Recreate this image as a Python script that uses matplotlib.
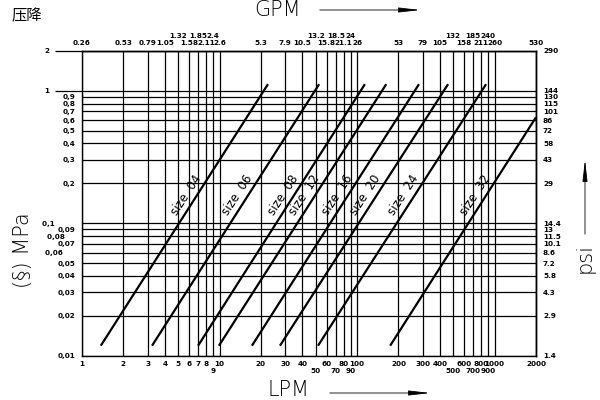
import math
import matplotlib.pyplot as plt
from matplotlib.ticker import NullFormatter

# Datos (caida de presion vs caudal)
tamanos = ['04', '06', '08', '12', '16', '20', '24', '32']
caudal_min = [1.37, 3.23, 6.98, 9.9, 17.2, 27.5, 52, 174]      # LPM
caudal_max = [22.5, 53, 114, 163, 282, 459, 867, 2000]          # LPM
presion_min = [0.0119, 0.0119, 0.0119, 0.0119, 0.0119, 0.0119, 0.0119, 0.0119]  # MPa
presion_max = [1.12, 1.12, 1.12, 1.12, 1.12, 1.12, 1.12, 0.63]                  # MPa

lpm_ticks = [1, 2, 3, 4, 5, 6, 7, 8, 9, 10, 20, 30, 40, 50, 60, 70, 80, 90, 100,
             200, 300, 400, 500, 600, 700, 800, 900, 1000, 2000]
gpm_labels = ['0.26', '0.53', '0.79', '1.05', '1.32', '1.58', '1.85', '2.11', '2.4', '2.6',
              '5.3', '7.9', '10.5', '13.2', '15.8', '18.5', '21.1', '24', '26',
              '53', '79', '105', '132', '158', '185', '211', '240', '260', '530']
lpm_abajo = [9, 50, 70, 90, 500, 700, 900]          # segunda fila abajo
gpm_arriba = [5, 7, 9, 50, 70, 90, 500, 700, 900]   # fila superior arriba

mpa_ticks = [0.01, 0.02, 0.03, 0.04, 0.05, 0.06, 0.07, 0.08, 0.09, 0.1,
             0.2, 0.3, 0.4, 0.5, 0.6, 0.7, 0.8, 0.9, 1, 2]
mpa_labels = ['0,01', '0,02', '0,03', '0,04', '0,05', '0,06', '0,07', '0,08', '0,09', '0,1',
              '0,2', '0,3', '0,4', '0,5', '0,6', '0,7', '0,8', '0,9', '1', '2']
psi_labels = ['1.4', '2.9', '4.3', '5.8', '7.2', '8.6', '10.1', '11.5', '13', '14.4',
              '29', '43', '58', '72', '86', '101', '115', '130', '144', '290']

# etiquetas desplazadas a la izquierda (las que tienen raya larga)
espacios = {0.06: 5, 0.08: 4, 0.1: 8, 1: 10, 2: 10}

presion_etiqueta = 0.163

fig = plt.figure(figsize=(6, 4), dpi=100)
ax = fig.add_axes([82 / 600, 1 - 355.7 / 400, 454 / 600, 304.9 / 400])
ax.set_xscale('log')
ax.set_yscale('log')
ax.set_xlim(1, 2000)
ax.set_ylim(0.01, 2)

# cuadricula
for x in lpm_ticks:
    ax.axvline(x, color='black', lw=0.9)
for y in mpa_ticks:
    ax.axhline(y, color='black', lw=0.9)

# rectas de cada tamano
for t, q0, q1, p0, p1 in zip(tamanos, caudal_min, caudal_max, presion_min, presion_max):
    ax.plot([q0, q1], [p0, p1], color='black', lw=1.6, solid_capstyle='butt')
    # punto sobre la recta donde va el texto (interpolacion log-log)
    f = math.log(presion_etiqueta / p0) / math.log(p1 / p0)
    qx = q0 * (q1 / q0) ** f
    ax.annotate('size  ' + t, xy=(qx, presion_etiqueta), xytext=(-8, 0),
                textcoords='offset points', rotation=57, rotation_mode='anchor',
                ha='center', va='center', fontsize=8.5, color='black')

# eje inferior LPM
etiquetas_abajo = []
for x in lpm_ticks:
    s = str(x)
    etiquetas_abajo.append('\n' + s if x in lpm_abajo else s)
ax.set_xticks(lpm_ticks, etiquetas_abajo)
ax.set_xticks(lpm_abajo, minor=True)
ax.xaxis.set_minor_formatter(NullFormatter())
ax.tick_params(axis='x', which='major', length=0, pad=3.5, labelsize=5.2)
ax.tick_params(axis='x', which='minor', length=8, width=0.9, color='black')
for lab in ax.get_xticklabels():
    lab.set_fontweight('bold')

# eje izquierdo MPa
etiquetas_izq = [lab + ' ' * espacios.get(y, 0) for y, lab in zip(mpa_ticks, mpa_labels)]
ax.set_yticks(mpa_ticks, etiquetas_izq)
ax.set_yticks([0.06, 0.08, 0.1], minor=True)
ax.yaxis.set_minor_formatter(NullFormatter())
ax.tick_params(axis='y', which='major', length=0, pad=5, labelsize=5.2)
ax.tick_params(axis='y', which='minor', length=7, width=0.9, color='black')
for lab in ax.get_yticklabels():
    lab.set_fontweight('bold')
ax.hlines([1, 2], -0.06, 0, transform=ax.get_yaxis_transform(), color='black', lw=0.9, clip_on=False)

# eje superior GPM
top = ax.secondary_xaxis('top')
etiquetas_arriba = [lab + '\n' if x in gpm_arriba else lab for x, lab in zip(lpm_ticks, gpm_labels)]
top.set_xticks(lpm_ticks, etiquetas_arriba)
top.set_xticks(gpm_arriba, minor=True)
top.xaxis.set_minor_formatter(NullFormatter())
top.tick_params(axis='x', which='major', length=0, pad=3.5, labelsize=5.2)
top.tick_params(axis='x', which='minor', length=12, width=0.9, color='black')
for lab in top.get_xticklabels():
    lab.set_fontweight('bold')

# eje derecho psi
der = ax.secondary_yaxis('right')
der.set_yticks(mpa_ticks, psi_labels)
der.yaxis.set_minor_formatter(NullFormatter())
der.tick_params(axis='y', which='both', length=0, pad=5, labelsize=5.2)
for lab in der.get_yticklabels():
    lab.set_fontweight('bold')

for sp in list(ax.spines.values()) + [top.spines['top'], der.spines['right']]:
    sp.set_color('black')
    sp.set_linewidth(1)

# textos de los ejes
fig.text(27 / 600, 1 - 16 / 400, '压降', family=['Noto Sans CJK SC', 'DejaVu Sans'],
         fontsize=11, ha='center', va='center')
fig.text(278 / 600, 1 - 10 / 400, 'GPM', fontsize=15, fontweight='light', ha='center', va='center')
fig.text(288 / 600, 1 - 390 / 400, 'LPM', fontsize=15, fontweight='light', ha='center', va='center')
fig.text(23 / 600, 1 - 250 / 400, '(§) MPa', fontsize=15, fontweight='light', rotation=90,
         ha='center', va='center')
fig.text(585 / 600, 1 - 258 / 400, 'psi', fontsize=15, fontweight='light', rotation=90,
         ha='center', va='center')

flecha = dict(arrowstyle='-|>,head_length=1.3,head_width=0.15', color='black', lw=0.6)
ax.annotate('', xy=(423 / 600, 1 - 10 / 400), xytext=(317 / 600, 1 - 10 / 400),
            xycoords='figure fraction', arrowprops=flecha)
ax.annotate('', xy=(433 / 600, 1 - 393 / 400), xytext=(327 / 600, 1 - 393 / 400),
            xycoords='figure fraction', arrowprops=flecha)
ax.annotate('', xy=(585 / 600, 1 - 157 / 400), xytext=(585 / 600, 1 - 237 / 400),
            xycoords='figure fraction', arrowprops=flecha)

plt.savefig('out.png', dpi=100)
